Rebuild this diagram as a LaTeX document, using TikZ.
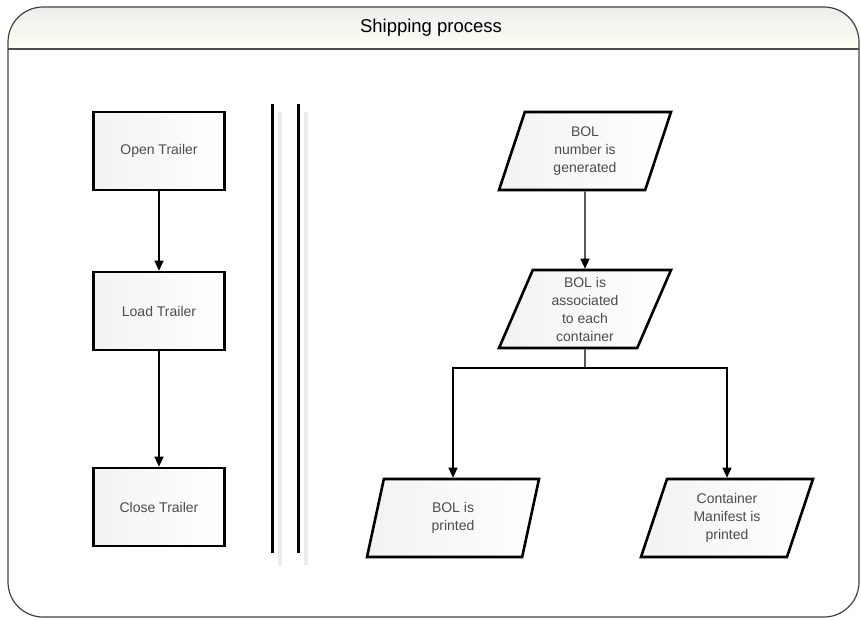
\documentclass[tikz,border=0pt]{standalone}
\usepackage{fontspec}
\setmainfont{Liberation Sans}
\usetikzlibrary{shapes.geometric,arrows.meta}

\tikzset{
	box/.style={draw, line width=2.6pt, left color=black!5, right color=white,
		minimum width=131pt, minimum height=78pt, inner sep=1pt,
		font=\fontsize{14}{18}\selectfont, text=black!70},
	para/.style={box, shape=trapezium, trapezium left angle=63, trapezium right angle=117,
		trapezium stretches body=true, minimum width=172pt, align=center},
	arr/.style={line width=1.3pt}
}

\begin{document}
\begin{tikzpicture}[x=1pt,y=-1pt,>={Triangle[length=10pt,width=9pt]}]
		\useasboundingbox (0,0) rectangle (861,619);
		% frame and title bar
		\begin{scope}
			\clip[rounded corners=35pt] (8,7) rectangle (859,617);
			\shade[top color=black!7, bottom color=yellow!4!white] (8,7) rectangle (859,49);
		\end{scope}
		\draw[black!75, line width=1.2pt, rounded corners=35pt] (8,7) rectangle (859,617);
		\draw[black!70, line width=2pt] (8,49) -- (859,49);
		\node (title) at (431,28) {\fontsize{18.5}{22}\selectfont Shipping process};
		
		% separator
		\draw[black!8, line width=4pt] (280,112) -- (280,565);
		\draw[black!8, line width=4pt] (306,112) -- (306,565);
		\draw[line width=3pt] (272,104) -- (272,553);
		\draw[line width=3pt] (298,104) -- (298,553);
		
		% trailer steps
		\node[box] (open) at (159,151) {Open Trailer};
		\node[box] (load) at (159,311) {Load Trailer};
		\node[box] (close) at (159,507) {Close Trailer};
		\draw[arr,->] (open) -- (load);
		\draw[arr,->] (load) -- (close);
		
		% BOL steps
		\node[para] (bolgen) at (585,151) {BOL\\number is\\generated};
		\node[para] (bolassoc) at (585,309) {BOL is\\associated\\to each\\container};
		\node[para] (bolprint) at (453,518) {BOL is\\printed};
		\node[para] (manifest) at (727,518) {Container\\Manifest is\\printed};
		\coordinate (fork) at (585,368);
		\draw[arr,->] (bolgen) -- (bolassoc);
		\draw[arr] (bolassoc.south) -- (fork);
		\draw[arr,->] (fork) -| (bolprint);
		\draw[arr,->] (fork) -| (manifest);
		\end{tikzpicture}
\end{document}
